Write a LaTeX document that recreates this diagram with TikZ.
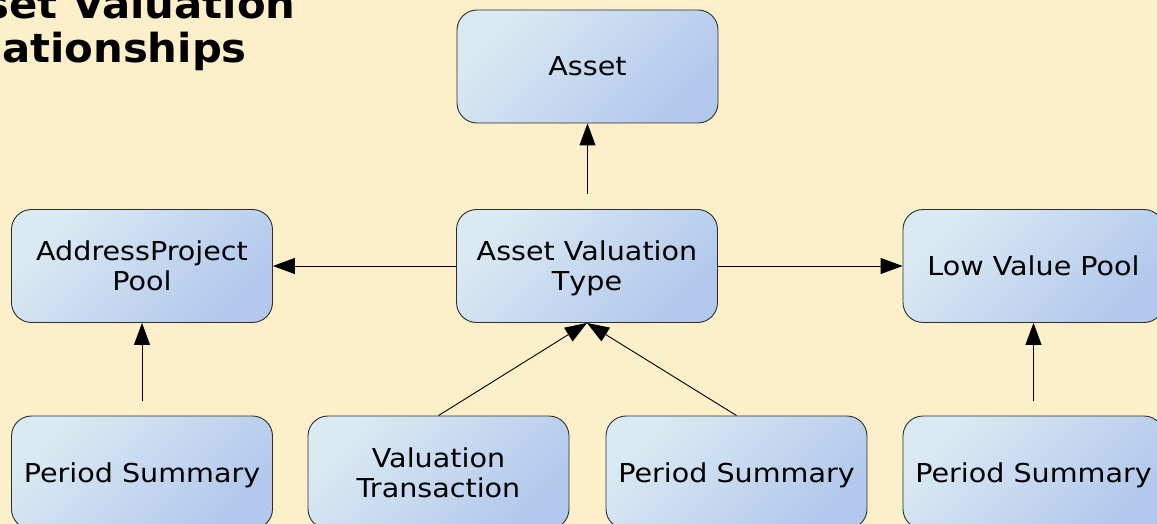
\documentclass[tikz,border=0pt]{standalone}
\usepackage{fontspec}
\setmainfont{DejaVu Sans}
\newfontfamily\boxfont[FakeStretch=1.1]{DejaVu Sans}
\newfontfamily\titlefont[FakeStretch=1.045]{DejaVu Sans Bold}
\usetikzlibrary{arrows.meta}
\definecolor{bg}{RGB}{253,239,202}
\definecolor{boxlight}{RGB}{218,234,243}
\definecolor{boxdark}{RGB}{178,200,236}
\definecolor{boxline}{RGB}{45,45,45}
\begin{document}
\begin{tikzpicture}[x=1pt,y=-1pt,
  box/.style={draw=boxline, line width=0.9pt, rounded corners=20pt,
    minimum width=261pt, minimum height=113pt, inner sep=0pt, align=center,
    top color=boxlight, bottom color=boxdark, shading angle=45,
    font=\boxfont\fontsize{26}{30}\selectfont},
  conn/.style={line width=0.9pt, -{Triangle[length=22pt,width=16pt]}},
  titletext/.style={anchor=base west, inner sep=0pt,
    font=\titlefont\fontsize{40}{45}\selectfont}]
\fill[bg] (0,0) rectangle (1157,524);
\useasboundingbox (0,0) rectangle (1157,524);

\node[titletext] (t1) at (-73,19) {Asset Valuation};
\node[titletext] (t2) at (-73,63) {Relationships};

\node[box] (asset) at (587.5,66.5) {Asset};
\node[box] (app) at (142,266) {AddressProject\\Pool};
\node[box] (avt) at (587,266) {Asset Valuation\\T\smash{yp}e};
\node[box] (lvp) at (1033.5,266) {Low Value Pool};
\node[box] (ps1) at (142,472.5) {Period Summar\smash{y}};
\node[box] (vt) at (438.5,472.5) {Valuation\\Transaction};
\node[box] (ps2) at (736.5,472.5) {Period Summar\smash{y}};
\node[box] (ps3) at (1033.5,472.5) {Period Summar\smash{y}};

\coordinate (c1) at (587.5,194);
\coordinate (c2) at (142,401);
\coordinate (c3) at (1033.5,401);

\draw[conn] (c1) -- (asset.south);
\draw[conn] (avt.west) -- (app.east);
\draw[conn] (avt.east) -- (lvp.west);
\draw[conn] (c2) -- (app.south);
\draw[conn] (c3) -- (lvp.south);
\draw[conn] (vt.north) -- (avt.south);
\draw[conn] (ps2.north) -- (avt.south);
\end{tikzpicture}
\end{document}
